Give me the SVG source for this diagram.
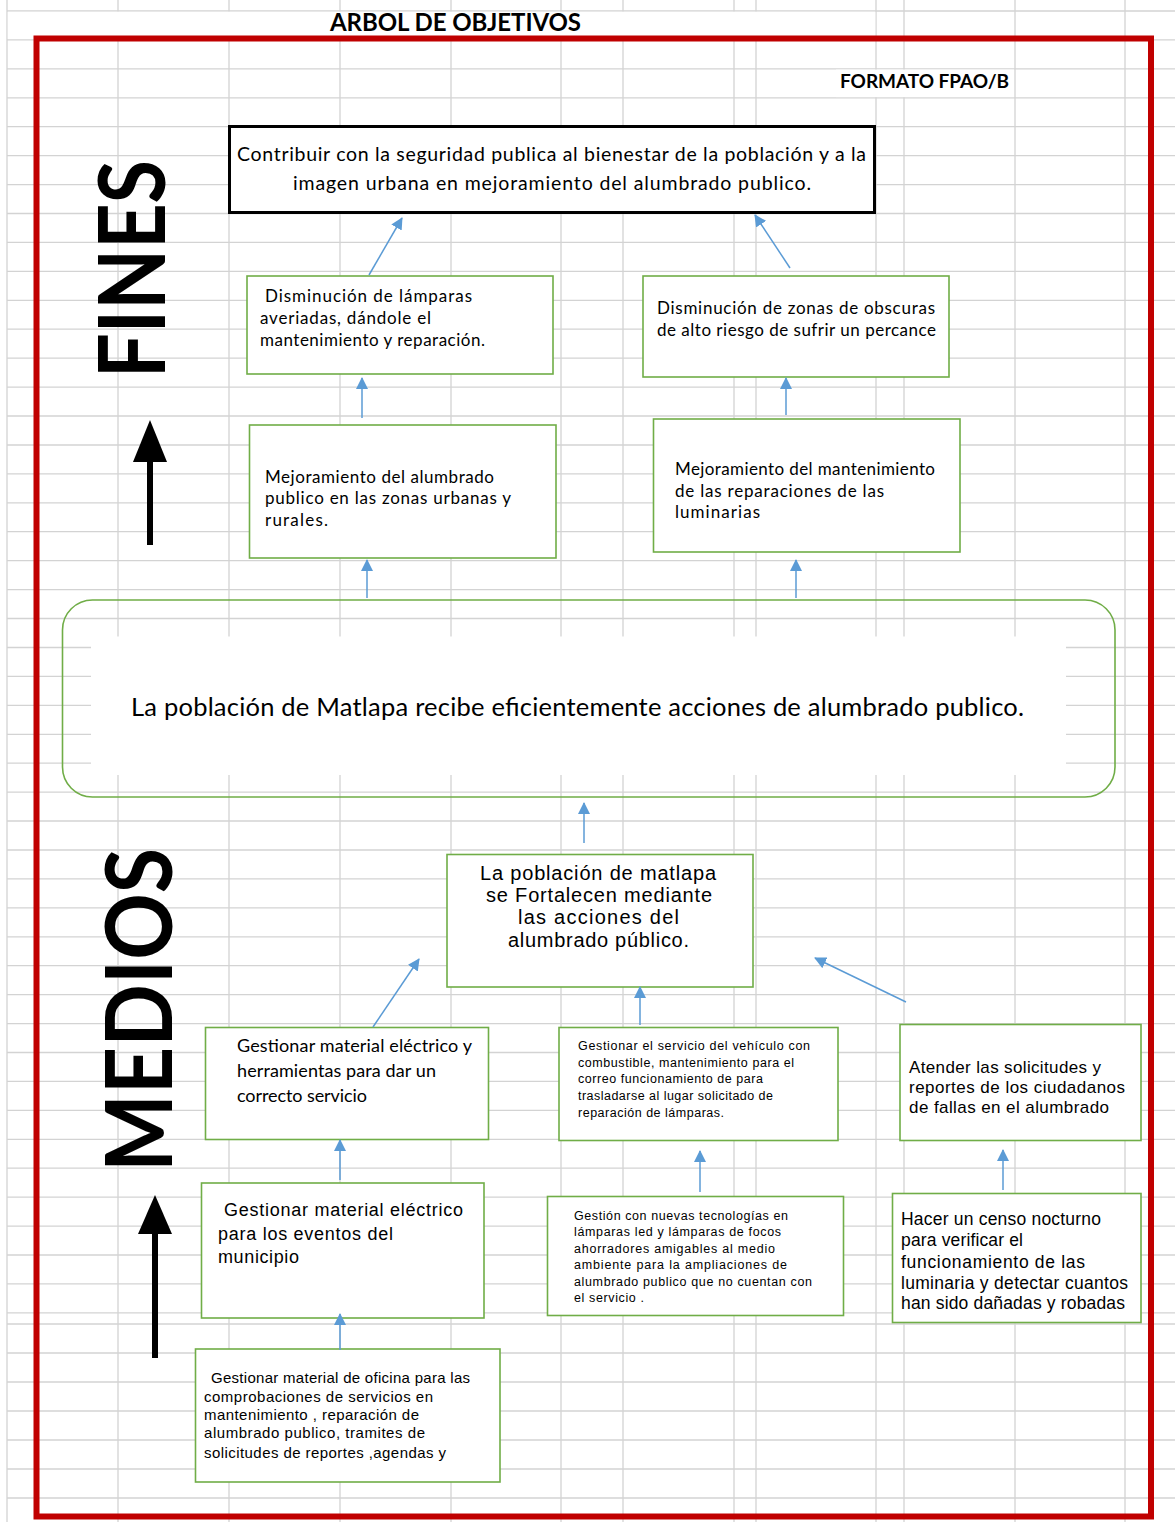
<svg xmlns="http://www.w3.org/2000/svg" width="1175" height="1522" viewBox="0 0 1175 1522">
<defs>
<style>
.grid{stroke:#d3d3d3;stroke-width:1.3;fill:none}
.box{fill:#fff;stroke:#70AD47;stroke-width:1.6}
.cal{font-family:Lato,"Liberation Sans",sans-serif;fill:#000}
.ari{font-family:"Liberation Sans",Arial,sans-serif;fill:#000}
.con{stroke:#5B9BD5;stroke-width:1.5;fill:none;marker-end:url(#ah)}
.big{font-family:Lato,"Liberation Sans",sans-serif;font-weight:bold;font-size:92px;fill:#000}
</style>
<marker id="ah" markerUnits="userSpaceOnUse" markerWidth="12" markerHeight="12" viewBox="0 0 12 12" refX="11" refY="6" orient="auto">
<path d="M0,0 L12,6 L0,12 z" fill="#5B9BD5"/>
</marker>
</defs>
<rect width="1175" height="1522" fill="#fff"/>
<g id="grid" class="grid">
<path d="M7,0V1522M118,0V1522M229,0V1522M340,0V1522M451,0V1522M561,0V1522M623,0V1522M734,0V1522M756,0V1522M876,0V1522M904,0V1522M1015,0V1522M1125,0V1522"/>
<path d="M7,11H1175M7,39.9H1175M7,68.9H1175M7,97.8H1175M7,126.7H1175M7,155.7H1175M7,184.6H1175M7,213.5H1175M7,242.4H1175M7,271.4H1175M7,300.3H1175M7,329.2H1175M7,358.2H1175M7,387.1H1175M7,416H1175M7,445H1175M7,473.9H1175M7,502.8H1175M7,531.7H1175M7,560.7H1175M7,589.6H1175M7,618.5H1175M7,647.5H1175M7,676.4H1175M7,705.3H1175M7,734.3H1175M7,763.2H1175M7,792.1H1175M7,821H1175M7,850H1175M7,878.9H1175M7,907.8H1175M7,936.8H1175M7,965.7H1175M7,994.6H1175M7,1023.6H1175M7,1052.5H1175M7,1081.4H1175M7,1110.3H1175M7,1139.3H1175M7,1168.2H1175M7,1197.1H1175M7,1226.1H1175M7,1255H1175M7,1283.9H1175M7,1312.9H1175M7,1324H1175M7,1353H1175M7,1382H1175M7,1411H1175M7,1440H1175M7,1469H1175M7,1498H1175"/>
</g>
<rect x="7.8" y="11.7" width="867.5" height="27" fill="#fff"/>
<rect x="836" y="69.6" width="178" height="27.5" fill="#fff"/>
<g id="title">
<text class="cal" x="330" y="31" font-size="24" font-weight="bold" textLength="251">ARBOL DE OBJETIVOS</text>
</g>
<g id="formato">
<text class="cal" x="840" y="88" font-size="19" font-weight="bold" textLength="169">FORMATO FPAO/B</text>
</g>
<rect id="frame" x="36.5" y="38.5" width="1114.5" height="1478" fill="none" stroke="#C00000" stroke-width="6"/>
<g id="fines">
<text class="big" transform="translate(165,378) rotate(-90)" textLength="218" lengthAdjust="spacingAndGlyphs">FINES</text>
<path d="M150,545V455" stroke="#000" stroke-width="6"/>
<path d="M133,462L150,420L167,462z" fill="#000"/>
</g>
<g id="medios">
<text class="big" transform="translate(172,1172) rotate(-90)" textLength="324" lengthAdjust="spacingAndGlyphs">MEDIOS</text>
<path d="M155,1358V1225" stroke="#000" stroke-width="6"/>
<path d="M138,1234L155,1195L172,1234z" fill="#000"/>
</g>
<g id="n_fin">
<rect x="229.5" y="126.5" width="645" height="86" fill="#fff" stroke="#000" stroke-width="3"/>
<text class="cal" font-size="19.5"><tspan x="237" y="161" textLength="629">Contribuir con la seguridad publica al bienestar de la población  y a la</tspan><tspan x="293" y="190" textLength="518">imagen urbana en mejoramiento  del alumbrado publico.</tspan></text>
</g>
<g id="n_dism1">
<rect class="box" x="247" y="276" width="306" height="98"/>
<text class="cal" font-size="17"><tspan x="265" y="302" textLength="207">Disminución  de lámparas</tspan><tspan x="260" y="324" textLength="171">averiadas, dándole el</tspan><tspan x="260" y="346" textLength="225">mantenimiento y reparación.</tspan></text>
</g>
<g id="n_dism2">
<rect class="box" x="643" y="276" width="306" height="101"/>
<text class="cal" font-size="17"><tspan x="657" y="314" textLength="278">Disminución de zonas de obscuras</tspan><tspan x="657" y="336" textLength="279">de alto riesgo de sufrir un percance</tspan></text>
</g>
<g id="n_mej1">
<rect class="box" x="249.5" y="425" width="306.5" height="133"/>
<text class="cal" font-size="17"><tspan x="265" y="483" textLength="229">Mejoramiento del alumbrado</tspan><tspan x="265" y="504" textLength="246">publico en las zonas urbanas y</tspan><tspan x="265" y="526" textLength="63">rurales.</tspan></text>
</g>
<g id="n_mej2">
<rect class="box" x="653.5" y="419" width="306.5" height="133"/>
<text class="cal" font-size="17"><tspan x="675" y="475" textLength="260">Mejoramiento del mantenimiento</tspan><tspan x="675" y="497" textLength="209">de las reparaciones de las</tspan><tspan x="675" y="518" textLength="85">luminarias</tspan></text>
</g>
<g id="n_prop">
<rect x="62.5" y="600" width="1052.5" height="197" rx="30" fill="none" stroke="#70AD47" stroke-width="1.6"/>
<rect x="91" y="636.5" width="975" height="138.5" fill="#fff"/>
<text class="cal" font-size="25.5" x="131" y="716" textLength="893">La población de Matlapa recibe eficientemente acciones  de alumbrado publico.</text>
</g>
<g id="n_fort">
<rect class="box" x="447" y="854.5" width="306" height="132.5"/>
<text class="ari" font-size="20"><tspan x="480" y="880" textLength="236">La población de matlapa</tspan><tspan x="486" y="902" textLength="226">se Fortalecen mediante</tspan><tspan x="518" y="924" textLength="161">las  acciones del</tspan><tspan x="508" y="947" textLength="181">alumbrado público.</tspan></text>
</g>
<g id="n_g1">
<rect class="box" x="205.5" y="1027.5" width="283" height="112"/>
<text class="cal" font-size="18"><tspan x="237" y="1052" textLength="235">Gestionar  material eléctrico y</tspan><tspan x="237" y="1077" textLength="199">herramientas para dar un</tspan><tspan x="237" y="1102" textLength="130">correcto servicio</tspan></text>
</g>
<g id="n_g2">
<rect class="box" x="559" y="1027.5" width="279" height="113"/>
<text class="ari" font-size="12.5"><tspan x="578" y="1050" textLength="232">Gestionar el servicio  del vehículo con</tspan><tspan x="578" y="1067" textLength="216">combustible, mantenimiento para el</tspan><tspan x="578" y="1083" textLength="185">correo funcionamiento de para</tspan><tspan x="578" y="1100" textLength="195">trasladarse al lugar solicitado de</tspan><tspan x="578" y="1117" textLength="146">reparación  de lámparas.</tspan></text>
</g>
<g id="n_g3">
<rect class="box" x="900" y="1024.5" width="241" height="116"/>
<text class="ari" font-size="17"><tspan x="909" y="1073" textLength="192">Atender las solicitudes y</tspan><tspan x="909" y="1093" textLength="216">reportes de los ciudadanos</tspan><tspan x="909" y="1113" textLength="200">de fallas en el alumbrado</tspan></text>
</g>
<g id="n_g4">
<rect class="box" x="201.5" y="1183" width="282.5" height="135"/>
<text class="ari" font-size="18"><tspan x="224" y="1216" textLength="239">Gestionar  material  eléctrico</tspan><tspan x="218" y="1240" textLength="175">para los eventos  del</tspan><tspan x="218" y="1263" textLength="81">municipio</tspan></text>
</g>
<g id="n_g5">
<rect class="box" x="547.5" y="1196.5" width="296" height="119"/>
<text class="ari" font-size="12.5"><tspan x="574" y="1220" textLength="214">Gestión con nuevas tecnologías en</tspan><tspan x="574" y="1236" textLength="207">lámparas led y lámparas de focos</tspan><tspan x="574" y="1253" textLength="201">ahorradores   amigables al medio</tspan><tspan x="574" y="1269" textLength="213">ambiente  para la  ampliaciones de</tspan><tspan x="574" y="1286" textLength="238">alumbrado publico que no cuentan con</tspan><tspan x="574" y="1302" textLength="70">el servicio .</tspan></text>
</g>
<g id="n_g6">
<rect class="box" x="892.5" y="1193.5" width="248.5" height="129"/>
<text class="ari" font-size="17.5"><tspan x="901" y="1225" textLength="200">Hacer un censo nocturno</tspan><tspan x="901" y="1246" textLength="122">para verificar  el</tspan><tspan x="901" y="1268" textLength="184">funcionamiento de las</tspan><tspan x="901" y="1289" textLength="227">luminaria y detectar  cuantos</tspan><tspan x="901" y="1309" textLength="224">han sido dañadas y robadas</tspan></text>
</g>
<g id="n_g7">
<rect class="box" x="195.5" y="1349" width="304.5" height="133"/>
<text class="ari" font-size="15"><tspan x="211" y="1383" textLength="259">Gestionar material de oficina para las</tspan><tspan x="204" y="1402" textLength="229">comprobaciones de servicios en</tspan><tspan x="204" y="1420" textLength="215">mantenimiento  , reparación de</tspan><tspan x="204" y="1438" textLength="221">alumbrado publico,  tramites de</tspan><tspan x="204" y="1458" textLength="242">solicitudes de reportes ,agendas y</tspan></text>
</g>
<g id="connectors">
<path class="con" d="M369,275L402,218"/>
<path class="con" d="M790,268L755,215"/>
<path class="con" d="M362,418V378"/>
<path class="con" d="M786,415V378"/>
<path class="con" d="M367,598V560"/>
<path class="con" d="M796,598V560"/>
<path class="con" d="M584,843V803"/>
<path class="con" d="M373,1027L419,959"/>
<path class="con" d="M640,1025V987"/>
<path class="con" d="M906,1002L815,958"/>
<path class="con" d="M340,1180V1140"/>
<path class="con" d="M700,1192V1151"/>
<path class="con" d="M1003,1190V1150"/>
<path class="con" d="M340,1350V1314"/>
</g>
</svg>
